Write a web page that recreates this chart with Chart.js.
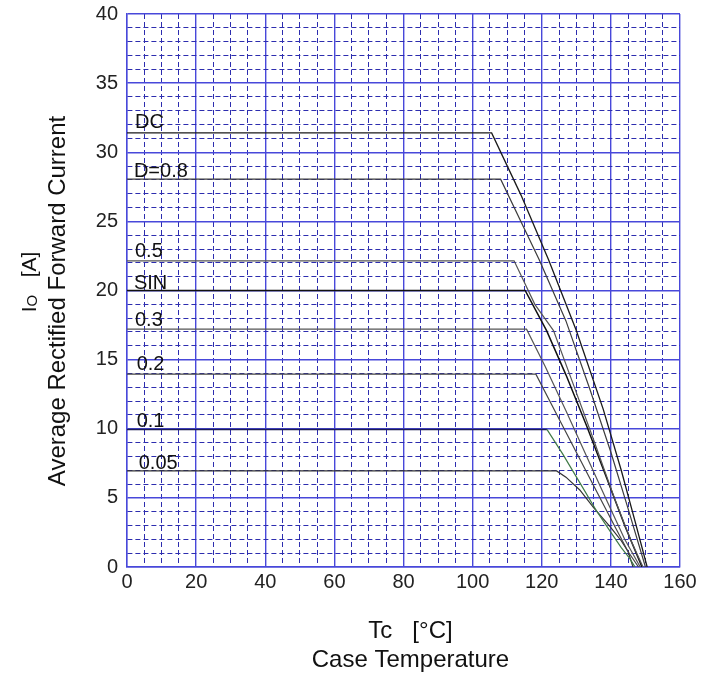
<!DOCTYPE html>
<html>
<head>
<meta charset="utf-8">
<script src="https://cdn.jsdelivr.net/npm/chart.js@4/dist/chart.umd.min.js"></script>
<style>
  html, body { margin: 0; padding: 0; background: #ffffff; }
  #wrap { width: 703px; height: 681px; position: relative; }
</style>
</head>
<body>
<div id="wrap"><canvas id="c"></canvas></div>
<script>
// ---- Data ----
const seriesNames = ['DC', 'D=0.8', '0.5', 'SIN', '0.3', '0.2', '0.1', '0.05'];

const tcDC   = [0, 105.5, 114, 122, 130, 137.8, 143, 147, 150.5];
const ioDC   = [31.4, 31.4, 26.9, 22.2, 17.1, 11.4, 7.0, 3.3, 0];

const tcD08  = [0, 108.1, 119.3, 127, 134, 140, 145, 150];
const ioD08  = [28.05, 28.05, 22.2, 17.8, 12.8, 8.3, 4.2, 0];

const tcD05  = [0, 112, 118, 123.4, 129, 135, 141, 146, 149.3];
const ioD05  = [22.15, 22.15, 19.0, 17.1, 13.3, 9.2, 5.0, 1.8, 0];

const tcSIN  = [0, 115.2, 121.4, 127, 133, 139, 144, 149];
const ioSIN  = [20, 20, 17.1, 13.9, 10.2, 6.3, 3.0, 0];

const tcD03  = [0, 115.6, 121, 127, 133, 139, 144, 148.5];
const ioD03  = [17.2, 17.2, 14.5, 11.3, 8.0, 4.7, 2.0, 0];

const tcD02  = [0, 118.3, 124, 130, 136, 141, 145, 148];
const ioD02  = [13.95, 13.95, 11.2, 8.3, 5.4, 3.0, 1.1, 0];

const tcD01  = [0, 121.5, 126, 131, 136, 140, 143, 145.5, 147];
const ioD01  = [9.95, 9.95, 8.2, 6.1, 4.0, 2.5, 1.4, 0.6, 0];

const tcD005 = [0, 124.3, 127, 131, 135, 140, 143, 145, 146.4];
const ioD005 = [6.95, 6.95, 6.5, 5.57, 4.3, 2.85, 1.9, 1.1, 0];

const xTickValues = [0, 20, 40, 60, 80, 100, 120, 140, 160];
const yTickValues = [0, 5, 10, 15, 20, 25, 30, 35, 40];

// ---- Styling ----
const FONT = '"Liberation Sans", Arial, sans-serif';
const MAJOR = 'rgb(72,72,218)';
const MINOR = 'rgb(45,45,175)';

const lineStyles = [
  { color: '#1a1a1a', width: 1.3 },
  { color: '#3c3c3c', width: 1.2 },
  { color: '#555555', width: 1.2 },
  { color: '#111111', width: 1.5 },
  { color: '#555555', width: 1.2 },
  { color: '#444444', width: 1.2 },
  { color: '#1c1c55', width: 1.6, descent: '#3f7a46' },
  { color: '#333333', width: 1.2 }
];

const xs = [tcDC, tcD08, tcD05, tcSIN, tcD03, tcD02, tcD01, tcD005];
const ys = [ioDC, ioD08, ioD05, ioSIN, ioD03, ioD02, ioD01, ioD005];

const datasets = seriesNames.map((name, i) => {
  const st = lineStyles[i];
  const ds = {
    label: name,
    data: xs[i].map((x, k) => ({ x: x, y: ys[i][k] })),
    borderColor: st.color,
    borderWidth: st.width,
    pointRadius: 0,
    tension: 0,
    fill: false
  };
  if (st.descent) {
    ds.segment = { borderColor: c => (c.p0DataIndex >= 1 ? st.descent : undefined), borderWidth: c => (c.p0DataIndex >= 1 ? 1.2 : undefined) };
  }
  return ds;
});

// Curve labels drawn next to each flat level
const curveLabelPlugin = {
  id: 'curveLabels',
  afterDatasetsDraw(chart) {
    const ctx = chart.ctx;
    const xs_ = chart.scales.x, ys_ = chart.scales.y;
    ctx.save();
    ctx.font = '20px ' + FONT;
    ctx.fillStyle = '#111';
    ctx.textAlign = 'left';
    ctx.textBaseline = 'alphabetic';
    const lift = [5, 2, 4, 2, 3, 4, 2, 2];
    const xv = [2.3, 2, 2.3, 2, 2.3, 2.8, 2.8, 3.4];
    seriesNames.forEach((name, i) => {
      const px = xs_.getPixelForValue(xv[i]);
      const py = ys_.getPixelForValue(ys[i][0]) - lift[i];
      ctx.fillText(name, px, py);
    });
    ctx.restore();
  }
};

// Axis titles
const axisTitlePlugin = {
  id: 'axisTitles',
  afterDraw(chart) {
    const ctx = chart.ctx;
    const area = chart.chartArea;
    const cx = (area.left + area.right) / 2 + 7;
    ctx.save();
    ctx.fillStyle = '#111';
    ctx.textAlign = 'center';
    ctx.textBaseline = 'alphabetic';
    ctx.font = '24px ' + FONT;
    ctx.fillText('Tc   [\u00B0C]', cx, 638);
    ctx.fillText('Case Temperature', cx, 667);

    // Y titles (rotated)
    ctx.save();
    ctx.translate(65, 301);
    ctx.rotate(-Math.PI / 2);
    ctx.font = '24px ' + FONT;
    ctx.fillText('Average Rectified Forward Current', 0, 0);
    ctx.restore();

    ctx.save();
    ctx.translate(36, 282);
    ctx.rotate(-Math.PI / 2);
    ctx.textAlign = 'left';
    const bigF = '21px ' + FONT, smallF = '15px ' + FONT;
    ctx.font = bigF; const wI = ctx.measureText('I').width; const wA = ctx.measureText('   [A]').width;
    ctx.font = smallF; const wO = ctx.measureText('O').width;
    let x0 = -(wI + wO + wA) / 2;
    ctx.font = bigF; ctx.fillText('I', x0, 0); x0 += wI;
    ctx.font = smallF; ctx.fillText('O', x0, 1); x0 += wO;
    ctx.font = bigF; ctx.fillText('   [A]', x0, 0);
    ctx.restore();
    ctx.restore();
  }
};

const isMajorX = v => Math.abs(v % 20) < 1e-6;
const isMajorY = v => Math.abs(v % 5) < 1e-6;

new Chart(document.getElementById('c'), {
  type: 'line',
  data: { datasets: datasets },
  options: {
    responsive: true,
    maintainAspectRatio: false,
    animation: false,
    layout: { padding: { left: 0, right: 23, top: 14, bottom: 0 } },
    plugins: { legend: { display: false }, tooltip: { enabled: false } },
    scales: {
      x: {
        type: 'linear',
        min: 0, max: 160,
        afterFit: s => { s.height = 114; s.paddingLeft = 0; s.paddingRight = 0; },
        ticks: {
          stepSize: 5,
          autoSkip: false,
          maxRotation: 0,
          padding: 3,
          color: '#222',
          font: { family: FONT, size: 20 },
          callback: v => (xTickValues.includes(v) ? String(v) : '')
        },
        grid: {
          drawTicks: false,
          color: c => (c.tick && isMajorX(c.tick.value) ? MAJOR : MINOR),
          lineWidth: c => (c.tick && isMajorX(c.tick.value) ? 1.4 : 1)
        },
        border: {
          display: true, color: MAJOR, width: 1.4,
          dash: c => (c.tick && !isMajorX(c.tick.value) ? [5, 3] : [])
        }
      },
      y: {
        type: 'linear',
        min: 0, max: 40,
        afterFit: s => { s.width = 127; s.paddingTop = 0; s.paddingBottom = 0; },
        ticks: {
          stepSize: 1,
          autoSkip: false,
          padding: 9,
          color: '#222',
          font: { family: FONT, size: 20 },
          callback: v => (yTickValues.includes(v) ? String(v) : '')
        },
        grid: {
          drawTicks: false,
          color: c => (c.tick && isMajorY(c.tick.value) ? MAJOR : MINOR),
          lineWidth: c => (c.tick && isMajorY(c.tick.value) ? 1.4 : 1)
        },
        border: {
          display: true, color: MAJOR, width: 1.4,
          dash: c => (c.tick && !isMajorY(c.tick.value) ? [5, 3] : [])
        }
      }
    }
  },
  plugins: [curveLabelPlugin, axisTitlePlugin]
});
</script>
</body>
</html>
